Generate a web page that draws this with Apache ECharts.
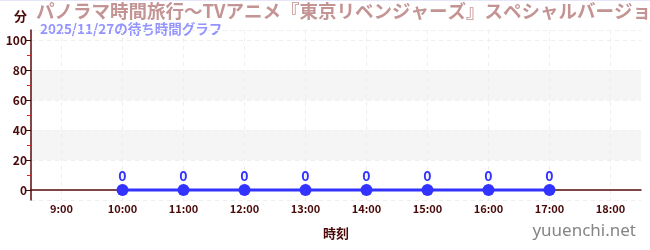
<!DOCTYPE html>
<html><head><meta charset="utf-8">
<script src="https://cdn.jsdelivr.net/npm/echarts@6/dist/echarts.min.js"></script>
<style>html,body{margin:0;padding:0;background:#fff}#c{width:650px;height:250px}</style>
</head><body><div id="c"></div>
<script>
const categories = ['9:00','10:00','11:00','12:00','13:00','14:00','15:00','16:00','17:00','18:00'];
const waitTimes = [null,0,0,0,0,0,0,0,0,null];
const minorTickValues = [10,30,50,70,90];
const titleText = 'パノラマ時間旅行～TVアニメ『東京リベンジャーズ』スペシャルバージョン～';
const subtitleText = '2025/11/27の待ち時間グラフ';
const yName = '分';
const xName = '時刻';
const siteText = 'yuuenchi.net';

const dark = '#4a0a0a';
const chart = echarts.init(document.getElementById('c'));
chart.setOption({
  animation: false,
  textStyle: {fontFamily: '"Noto Sans CJK JP","Noto Sans",sans-serif'},
  grid: {left: 31, right: 9, top: 30, bottom: 50},
  graphic: [
    {type:'rect', shape:{x:0,y:0,width:650,height:1}, style:{fill:'#e6e6fa'}},
    {type:'text', left: 36, top: 2, style:{text: titleText, fill:'#c49494', font:'bold 18.5px "Noto Sans CJK JP"'}},
    {type:'text', left: 40, top: 22, style:{text: subtitleText, fill:'#9494ff', font:'bold 13.5px "Noto Sans CJK JP"'}},
    {type:'text', left: 14, top: 10, style:{text: yName, fill: dark, font:'bold 13px "Noto Sans CJK JP"'}},
    {type:'text', right: 14, top: 223, style:{text: siteText, fill:'#858585', font:'17px "Noto Sans","DejaVu Sans",sans-serif'}}
  ],
  xAxis: {
    type: 'category', data: categories, boundaryGap: true,
    name: xName, nameLocation: 'middle', nameGap: 27,
    nameTextStyle: {color: dark, fontWeight: 'bold', fontSize: 13},
    axisLine: {lineStyle: {color: '#5a0a0a', width: 1.5}},
    axisTick: {alignWithLabel: true, length: 4, lineStyle: {color: '#999', width: 2}},
    axisLabel: {color: dark, fontWeight: 'bold', fontSize: 11, margin: 3},
    splitLine: {show: true, alignWithLabel: true, lineStyle: {color: '#eee', type: [4,4]}}
  },
  yAxis: [{
    type: 'value', min: -20/3, max: 320/3, splitNumber: 5,
    axisLine: {show: true, lineStyle: {color: '#5a0a0a', width: 1.5}},
    axisTick: {show: true, length: 5, lineStyle: {color: '#3a0a0a'}},
    axisLabel: {color: dark, fontWeight: 'bold', fontSize: 12, margin: 4},
    splitLine: {lineStyle: {color: '#eee', type: [4,4]}},
    splitArea: {show: true, areaStyle: {color: ['rgba(0,0,0,0)','rgba(0,0,0,0)','#f5f5f5','rgba(0,0,0,0)','#f5f5f5','rgba(0,0,0,0)','rgba(0,0,0,0)']}}
  }, {
    type: 'value', min: -20/3, max: 320/3, position: 'left', offset: 0,
    axisLine: {show: false},
    axisTick: {show: true, length: 4, customValues: minorTickValues, lineStyle: {color: '#e02020', width: 1}},
    axisLabel: {show: false},
    splitLine: {show: false}
  }],
  series: [{
    type: 'line', data: waitTimes, connectNulls: false, yAxisIndex: 0,
    symbol: 'circle', symbolSize: 12,
    itemStyle: {color: '#3333ff'},
    lineStyle: {color: '#3333ff', width: 3},
    label: {show: true, position: 'top', distance: 1, color: '#3333ff', fontSize: 14, fontWeight: 'bold'}
  }]
});
</script></body></html>
